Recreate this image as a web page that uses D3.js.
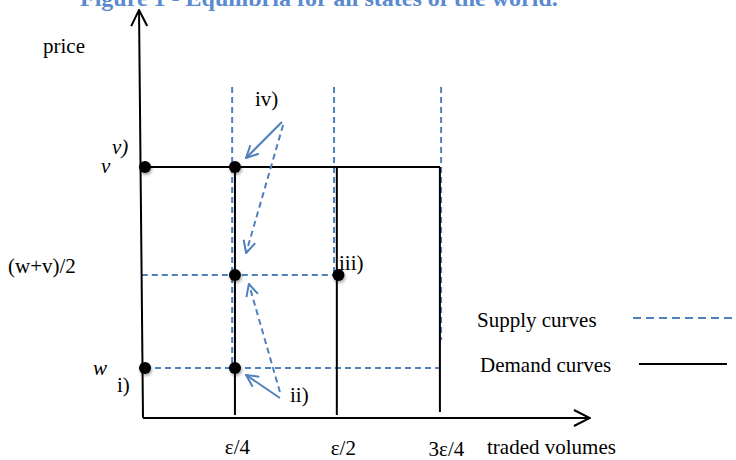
<!DOCTYPE html>
<html>
<head>
<meta charset="utf-8">
<script src="https://cdn.jsdelivr.net/npm/d3@7"></script>
<style>
    body { margin: 0; background: #fff; }
    svg { display: block; font-family: "Liberation Serif", "Times New Roman", serif; }
</style>
</head>
<body>
<div id="chart"></div>
<script>
// volumes (x) in units of the axis, prices (y) in units of the axis
const volumeTicks = [0.231, 0.487, 0.746];
const volumeLabels = ['ε/4', 'ε/2', '3ε/4'];
const priceLevels = [0.125, 0.3575, 0.6275];   // w, (w+v)/2, v
const priceLabels = ['w', '(w+v)/2', 'v'];

// demand curves (black, solid)
const demandSegments = [
    [0.005, 0.6275, 0.746, 0.6275],
    [0.231, 0.6275, 0.231, 0.0075],
    [0.487, 0.6275, 0.487, 0.0075],
    [0.746, 0.6275, 0.746, 0.015]
];

// supply curves (blue, dashed)
const supplySegments = [
    [0.224, 0.8275, 0.224, 0.125],
    [0.480, 0.8275, 0.480, 0.3575],
    [0.749, 0.8275, 0.749, 0.195],
    [-0.003, 0.3575, 0.487, 0.3575],
    [0.005, 0.125, 0.746, 0.125]
];

// equilibrium points
const eqVolumes = [0.005, 0.231, 0.231, 0.491, 0.005, 0.231];
const eqPrices  = [0.6275, 0.6275, 0.3575, 0.3575, 0.125, 0.125];

// adjustment arrows: [x1, y1, x2, y2, dashed]
const moveArrows = [
    [0.349, 0.74, 0.259, 0.65, false],
    [0.352, 0.7325, 0.259, 0.4125, true],
    [0.344, 0.065, 0.266, 0.335, true],
    [0.344, 0.05, 0.259, 0.1075, false]
];

const blue = '#4f81bd';
const width = 736, height = 460;

let svg = d3.select('#chart').append('svg')
    .attr('width', width)
    .attr('height', height);

let x = d3.scaleLinear().domain([0, 1]).range([143, 541]);
let y = d3.scaleLinear().domain([0, 1]).range([418, 18]);

// markers
let defs = svg.append('defs');
defs.append('marker')
    .attr('id', 'axisHead')
    .attr('markerUnits', 'userSpaceOnUse')
    .attr('viewBox', '0 0 18 18')
    .attr('markerWidth', 18).attr('markerHeight', 18)
    .attr('refX', 17).attr('refY', 9)
    .attr('orient', 'auto')
    .append('path')
    .attr('d', 'M1,1 L17,9 L1,17')
    .attr('fill', 'none').attr('stroke', 'black').attr('stroke-width', 2);

defs.append('marker')
    .attr('id', 'blueHead')
    .attr('markerUnits', 'userSpaceOnUse')
    .attr('viewBox', '0 0 14 14')
    .attr('markerWidth', 14).attr('markerHeight', 14)
    .attr('refX', 13).attr('refY', 7)
    .attr('orient', 'auto')
    .append('path')
    .attr('d', 'M1,1 L13,7 L1,13')
    .attr('fill', 'none').attr('stroke', blue).attr('stroke-width', 2);

let shadow = defs.append('filter').attr('id', 'shadow')
    .attr('x', '-50%').attr('y', '-50%').attr('width', '200%').attr('height', '200%');
shadow.append('feDropShadow')
    .attr('dx', 1).attr('dy', 2).attr('stdDeviation', 1.5)
    .attr('flood-color', '#000').attr('flood-opacity', 0.35);

// title (cut at the top edge, as in the source)
svg.append('text')
    .attr('x', 80).attr('y', 6)
    .attr('font-size', 24).attr('font-weight', 'bold')
    .attr('fill', '#5a8ad0')
    .text('Figure 1 - Equilibria for all states of the world.');

// supply curves
svg.append('g').selectAll('line')
    .data(supplySegments)
    .enter().append('line')
    .attr('x1', d => x(d[0])).attr('y1', d => y(d[1]))
    .attr('x2', d => x(d[2])).attr('y2', d => y(d[3]))
    .attr('stroke', blue).attr('stroke-width', 2)
    .attr('stroke-dasharray', '6,4');

// demand curves
svg.append('g').selectAll('line')
    .data(demandSegments)
    .enter().append('line')
    .attr('x1', d => x(d[0])).attr('y1', d => y(d[1]))
    .attr('x2', d => x(d[2])).attr('y2', d => y(d[3]))
    .attr('stroke', 'black').attr('stroke-width', 2);

// axes with arrowheads
svg.append('line')
    .attr('x1', x(0)).attr('y1', y(0))
    .attr('x2', x(-0.01)).attr('y2', y(1.02))
    .attr('stroke', 'black').attr('stroke-width', 2)
    .attr('marker-end', 'url(#axisHead)');

svg.append('line')
    .attr('x1', x(0)).attr('y1', y(0))
    .attr('x2', x(1.123)).attr('y2', y(0))
    .attr('stroke', 'black').attr('stroke-width', 2)
    .attr('marker-end', 'url(#axisHead)');

// x tick labels through d3 axis
let xAxis = d3.axisBottom(x)
    .tickValues(volumeTicks)
    .tickFormat((d, i) => volumeLabels[i])
    .tickSize(0)
    .tickPadding(21);

let xAxisG = svg.append('g')
    .attr('transform', `translate(0,${y(0)})`)
    .call(xAxis);
xAxisG.select('.domain').remove();
xAxisG.selectAll('text')
    .attr('font-family', '"Liberation Serif", serif')
    .attr('font-size', 21)
    .attr('fill', 'black')
    .attr('dx', (d, i) => [2, 6, 6][i])
    .attr('dy', (d, i) => ['0.71em', '0.76em', '0.8em'][i]);

// adjustment arrows
svg.append('g').selectAll('line')
    .data(moveArrows)
    .enter().append('line')
    .attr('x1', d => x(d[0])).attr('y1', d => y(d[1]))
    .attr('x2', d => x(d[2])).attr('y2', d => y(d[3]))
    .attr('stroke', blue).attr('stroke-width', 2)
    .attr('stroke-dasharray', d => d[4] ? '6,4' : null)
    .attr('marker-end', 'url(#blueHead)');

// equilibrium dots
svg.append('g').selectAll('circle')
    .data(eqVolumes)
    .enter().append('circle')
    .attr('cx', d => x(d))
    .attr('cy', (d, i) => y(eqPrices[i]))
    .attr('r', 6)
    .attr('fill', 'black')
    .attr('filter', 'url(#shadow)');

// price labels
let labelG = svg.append('g').attr('font-size', 21).attr('fill', 'black');

labelG.append('text')
    .attr('x', 93).attr('y', y(priceLevels[0]) + 7)
    .attr('font-style', 'italic')
    .text(priceLabels[0]);
labelG.append('text')
    .attr('x', 8).attr('y', y(priceLevels[1]) - 2)
    .text(priceLabels[1]);
labelG.append('text')
    .attr('x', 101).attr('y', y(priceLevels[2]) + 6)
    .attr('font-style', 'italic')
    .text(priceLabels[2]);

labelG.append('text').attr('x', 43).attr('y', 53).text('price');
labelG.append('text').attr('x', 487).attr('y', 454).text('traded volumes');

// case labels
labelG.append('text').attr('x', 112).attr('y', y(priceLevels[2]) - 13)
    .attr('font-style', 'italic').text('v)');
labelG.append('text').attr('x', 255).attr('y', 106).text('iv)');
labelG.append('text').attr('x', 339).attr('y', y(priceLevels[1]) - 5).text('iii)');
labelG.append('text').attr('x', 117).attr('y', y(priceLevels[0]) + 24).text('i)');
labelG.append('text').attr('x', 290).attr('y', y(priceLevels[0]) + 34).text('ii)');

// legend
labelG.append('text').attr('x', 477).attr('y', 327).text('Supply curves');
labelG.append('text').attr('x', 480).attr('y', 372).text('Demand curves');

svg.append('line')
    .attr('x1', 633).attr('x2', 740).attr('y1', 318).attr('y2', 318)
    .attr('stroke', blue).attr('stroke-width', 2)
    .attr('stroke-dasharray', '8,5');
svg.append('line')
    .attr('x1', 639).attr('x2', 727).attr('y1', 364).attr('y2', 364)
    .attr('stroke', 'black').attr('stroke-width', 2);
</script>
</body>
</html>
